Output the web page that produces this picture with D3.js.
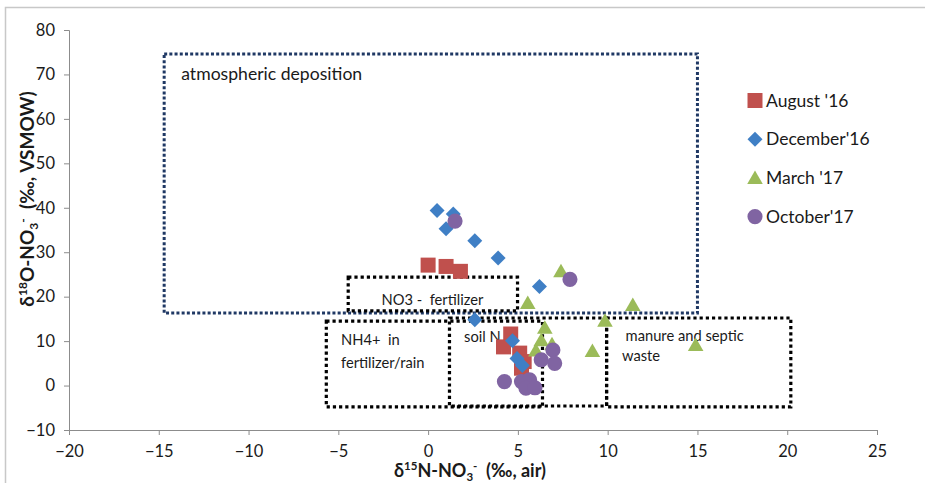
<!DOCTYPE html>
<html>
<head>
<meta charset="utf-8">
<script src="https://cdn.jsdelivr.net/npm/d3@7"></script>
<style>
  body { margin: 0; background: #fff; }
  svg text { font-family: Lato, "Open Sans", sans-serif; white-space: pre; }
</style>
</head>
<body>
<div id="G"></div>
<script>
// data
var xTicks = [-20, -15, -10, -5, 0, 5, 10, 15, 20, 25];
var yTicks = [-10, 0, 10, 20, 30, 40, 50, 60, 70, 80];

var august16 = [[0, 27.1], [1, 26.8], [1.8, 25.7], [4.6, 11.6], [4.2, 8.7], [5.1, 7.3], [5.35, 5.4], [5.2, 3.9]];
var december16 = [[0.5, 39.4], [1.4, 38.6], [1.0, 35.3], [2.6, 32.6], [3.9, 28.7], [6.2, 22.3], [2.6, 14.8], [4.7, 10.1], [4.95, 6.1], [5.25, 4.5]];
var march17 = [[7.4, 25.7], [5.55, 18.6], [11.4, 18.1], [9.85, 14.6], [9.15, 7.8], [14.9, 9.1], [6.5, 13.0], [6.3, 10.2], [6.0, 7.9], [6.9, 9.3]];
var october17 = [[1.5, 37.0], [7.9, 23.9], [6.95, 8.0], [6.3, 5.8], [7.05, 5.0], [4.25, 0.9], [5.2, 0.9], [5.65, 1.3], [5.45, -0.6], [5.95, -0.5]];

var seriesNames = ["August '16", "December'16", "March '17", "October'17"];
var seriesColors = ["#C0504D", "#3F7FC5", "#9BBB59", "#8064A2"];

// source boxes: [x0, x1, y0, y1]
var atmBox = [-14.7, 15.0, 16.3, 74.6];
var srcBoxes = [
  [-4.45, 4.98, 16.8, 24.4],
  [-5.67, 6.37, -4.8, 14.5],
  [1.19, 9.94, -4.6, 15.2],
  [9.94, 20.2, -4.8, 15.2]
];
var boxLabels = [
  ["NO3 -  fertilizer", -2.6, 18.1],
  ["NH4+  in", -4.85, 9.1],
  ["fertilizer/rain", -4.85, 4.0],
  ["soil N", 2.0, 9.7],
  ["manure and septic", 11.0, 10.0],
  ["waste", 10.8, 5.5]
];

var W = 925, H = 483;
var Border = { top: 30, right: 48, bottom: 53, left: 69 },
  width = W - Border.left - Border.right,
  height = H - Border.top - Border.bottom;

var svg = d3.select("#G").append("svg")
  .attr("width", W).attr("height", H);

// outer frame of the pasted chart
svg.append("rect")
  .attr("x", 5.5).attr("y", 7.5).attr("width", W + 20).attr("height", H + 20)
  .attr("fill", "none").attr("stroke", "#c8c8c8").attr("stroke-width", 1.5);

var g = svg.append("g")
  .attr("transform", "translate(" + Border.left + "," + Border.top + ")");

var x = d3.scaleLinear().domain([-20, 25]).range([0, width]);
var y = d3.scaleLinear().domain([-10, 80]).range([height, 0]);

// axes
var yAxis = g.append("g")
  .call(d3.axisLeft(y).tickValues(yTicks).tickSize(5).tickPadding(9));
var xAxis = g.append("g")
  .attr("transform", "translate(0," + height + ")")
  .call(d3.axisBottom(x).tickValues(xTicks).tickSize(5).tickPadding(10));
[xAxis, yAxis].forEach(function (a) {
  a.select(".domain").attr("stroke", "#8c8c8c");
  a.selectAll(".tick line").attr("stroke", "#8c8c8c");
  a.selectAll(".tick text").attr("font-size", 16.5).attr("fill", "#1a1a1a")
    .style("font-family", "Lato, sans-serif");
});

// boxes
g.append("rect")
  .attr("x", x(atmBox[0])).attr("y", y(atmBox[3]))
  .attr("width", x(atmBox[1]) - x(atmBox[0])).attr("height", y(atmBox[2]) - y(atmBox[3]))
  .attr("fill", "none").attr("stroke", "#1F3864").attr("stroke-width", 3)
  .attr("stroke-dasharray", "3,2.2");
g.append("text")
  .attr("x", x(-13.75)).attr("y", y(68.8))
  .attr("font-size", 17.6).attr("fill", "#1a1a1a")
  .text("atmospheric deposition");

g.selectAll("rect.src").data(srcBoxes).enter().append("rect")
  .attr("class", "src")
  .attr("x", function (d) { return x(d[0]) })
  .attr("y", function (d) { return y(d[3]) })
  .attr("width", function (d) { return x(d[1]) - x(d[0]) })
  .attr("height", function (d) { return y(d[2]) - y(d[3]) })
  .attr("fill", "none").attr("stroke", "#000").attr("stroke-width", 3.2)
  .attr("stroke-dasharray", "3.2,3");

g.selectAll("text.lab").data(boxLabels).enter().append("text")
  .attr("class", "lab")
  .attr("x", function (d) { return x(d[1]) })
  .attr("y", function (d) { return y(d[2]) })
  .attr("font-size", 14.7).attr("fill", "#1a1a1a")
  .text(function (d) { return d[0] });

// points
var allSeries = [august16, december16, march17, october17];
var shapes = [
  d3.symbol().type(d3.symbolSquare).size(225),
  d3.symbol().type(d3.symbolSquare).size(112),
  d3.symbol().type(d3.symbolTriangle).size(105),
  d3.symbol().type(d3.symbolCircle).size(180)
];
var rot = [0, 45, 0, 0];
var dy = [0, 0, 1.5, 0];

allSeries.forEach(function (s, i) {
  g.append("g").selectAll("path").data(s).enter().append("path")
    .attr("d", shapes[i])
    .attr("fill", seriesColors[i])
    .attr("transform", function (d) {
      return "translate(" + x(d[0]) + "," + (y(d[1]) + dy[i]) + ") rotate(" + rot[i] + ")";
    });
});

// legend
var legend = svg.append("g").attr("transform", "translate(755,100.5)");
seriesNames.forEach(function (n, i) {
  var row = legend.append("g").attr("transform", "translate(0," + (i * 38.7) + ")");
  row.append("path").attr("d", shapes[i])
    .attr("fill", seriesColors[i])
    .attr("transform", "translate(0," + dy[i] + ") rotate(" + rot[i] + ")");
  row.append("text").attr("x", 11).attr("y", 6).attr("font-size", 17.5).attr("fill", "#1a1a1a").text(n);
});

// axis titles
var xt = svg.append("text")
  .attr("x", 470).attr("y", 477).attr("text-anchor", "middle")
  .attr("font-size", 18).attr("font-weight", "bold").attr("fill", "#1a1a1a");
xt.append("tspan").text("δ");
xt.append("tspan").attr("font-size", 11.5).attr("dy", -7).text("15");
xt.append("tspan").attr("dy", 7).text("N-NO");
xt.append("tspan").attr("font-size", 11.5).attr("dy", 4).text("3");
xt.append("tspan").attr("font-size", 11.5).attr("dy", -11).text("-");
xt.append("tspan").attr("dy", 7).text("  (‰, air)");

var yt = svg.append("text")
  .attr("transform", "translate(34,199) rotate(-90)").attr("text-anchor", "middle")
  .attr("font-size", 19).attr("font-weight", "bold").attr("fill", "#1a1a1a");
yt.append("tspan").text("δ");
yt.append("tspan").attr("font-size", 12).attr("dy", -7).text("18");
yt.append("tspan").attr("dy", 7).text("O-NO");
yt.append("tspan").attr("font-size", 12).attr("dy", 4).text("3");
yt.append("tspan").attr("font-size", 12).attr("dy", -11).text("-");
yt.append("tspan").attr("dy", 7).text("  (‰, VSMOW)");
</script>
</body>
</html>
